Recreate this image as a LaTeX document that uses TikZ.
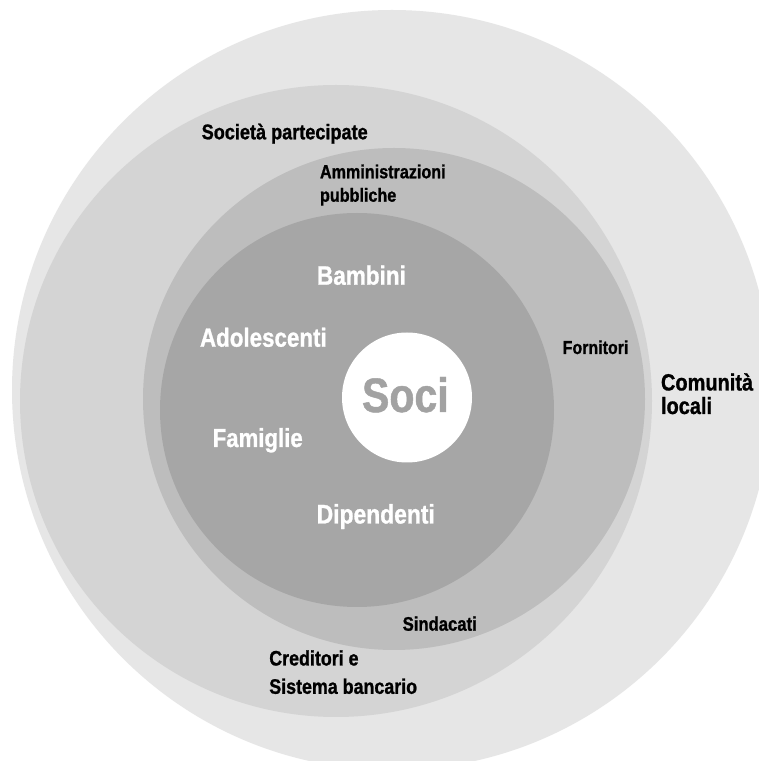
\documentclass[tikz,border=0pt]{standalone}
\usepackage{fontspec}
\newfontfamily\lblfont[FakeStretch=0.85,FakeBold=1]{Liberation Sans}
\definecolor{ringA}{HTML}{E6E6E6}
\definecolor{ringB}{HTML}{D4D4D4}
\definecolor{ringC}{HTML}{BDBDBD}
\definecolor{ringD}{HTML}{A6A6A6}
\definecolor{socitext}{HTML}{A2A2A2}
\newcommand{\fsz}[2]{\lblfont\bfseries\fontsize{#1}{#2}\selectfont}
\begin{document}
\begin{tikzpicture}[x=1pt,y=1pt,
  lbl/.style={inner sep=0pt, outer sep=0pt, anchor=base west, align=left},
  darklbl/.style={lbl, text=black},
  lightlbl/.style={lbl, text=white}]
\useasboundingbox (0,0) rectangle (759,761);
\fill[white] (0,0) rectangle (759,761);
\begin{scope}
  \clip (0,0) rectangle (759,761);
  \fill[ringA] (392,371) circle[radius=380];
  \fill[ringB] (336,360) circle[radius=316];
  \fill[ringC] (394,362) circle[radius=251];
  \fill[ringD] (357,351) circle[radius=197];
  \fill[white] (407,363.5) circle[radius=65];
\end{scope}
% outer labels (multi-line nodes: base = last line)
\node[darklbl, font=\fsz{21.3}{25}] (soc) at (201.7,621.7) {Società partecipate};
\node[darklbl, font=\fsz{19}{23.4}] (amm) at (320,559.3) {Amministrazioni\\pubbliche};
\node[darklbl, font=\fsz{18.8}{22}] (for) at (562.7,407) {Fornitori};
\node[darklbl, font=\fsz{23.5}{23.5}] (com) at (661,347) {Comunità\\locali};
\node[darklbl, font=\fsz{19.6}{23}] (sin) at (402.7,130.3) {Sindacati};
\node[darklbl, font=\fsz{21}{28.3}] (cre) at (269.3,67.2) {Creditori e\\Sistema bancario};
% inner labels
\node[lightlbl, font=\fsz{26.5}{30}] (bam) at (317,476.3) {Bambini};
\node[lightlbl, font=\fsz{26.3}{30}] (ado) at (200,414.3) {Adolescenti};
\node[lightlbl, font=\fsz{26.1}{30}] (fam) at (212.7,314) {Famiglie};
\node[lightlbl, font=\fsz{26.9}{30}] (dip) at (316.7,237.5) {Dipendenti};
% center
\node[lbl, text=socitext, font=\fsz{48.3}{52}] (soci) at (362,349) {Soci};
\end{tikzpicture}
\end{document}
